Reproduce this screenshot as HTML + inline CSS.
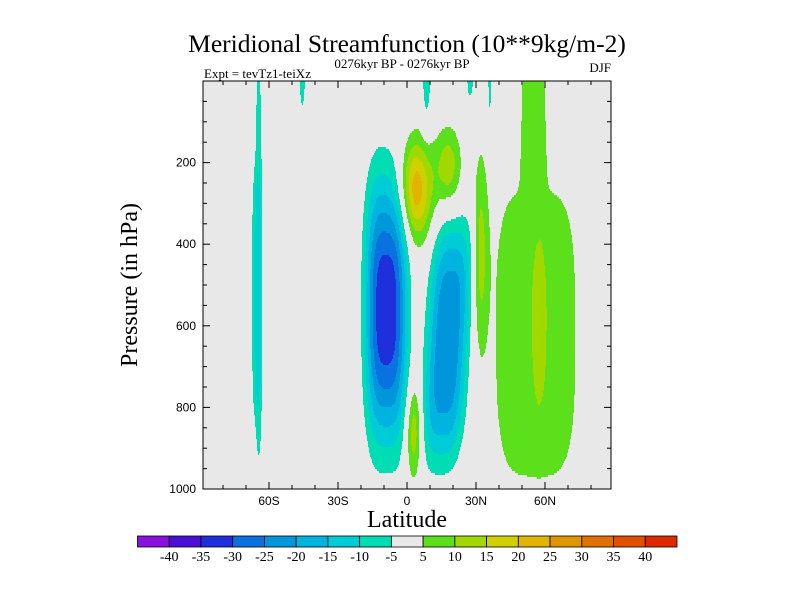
<!DOCTYPE html>
<html><head><meta charset="utf-8"><style>
body{margin:0;background:#fff;}
svg{display:block;}
.serif{font-family:"Liberation Serif",serif;}
.sans{font-family:"Liberation Sans",sans-serif;}
</style></head><body>
<svg id="chart" width="800" height="600" viewBox="0 0 800 600">
<text class="serif" x="407" y="52" font-size="25.5" text-anchor="middle">Meridional Streamfunction (10**9kg/m-2)</text>
<text class="serif" x="402" y="68" font-size="13" text-anchor="middle">0276kyr BP - 0276kyr BP</text>
<text class="serif" x="204" y="78" font-size="13">Expt = tevTz1-teiXz</text>
<text class="serif" x="611" y="72" font-size="13" text-anchor="end">DJF</text>
<rect x="203" y="81" width="408" height="408" fill="#e8e8e8"/>
<g id="field"></g>
<g id="axes"></g>
<rect x="203" y="81" width="408" height="408" fill="none" stroke="#000" stroke-width="1"/>
<text class="serif" x="137" y="285" font-size="24" text-anchor="middle" transform="rotate(-90 137 285)">Pressure (in hPa)</text>
<text class="serif" x="407" y="527" font-size="24" text-anchor="middle">Latitude</text>
<g id="colorbar"></g>
</svg>
<script>
// Blob model of the streamfunction field
const blobLat  = [-9,   17.5, 4,   18,  3,   32,  56,  55,  57.5, -64.5, -66, 8.5, 27.5, 36,  -45.5];
const blobP    = [560,  640,  265, 210, 860, 420, 620, 0,   570,  450,   520, 0,   0,    0,   0];
const blobAmp  = [-34,  -24,  23,  13,  14,  12,  9,   7,   5,    -8,    -6,  -8,  -7,   -7,  -7];
const blobSx   = [7,    7,    5,   4,   2.5, 2.3, 16.5,5,   1.8,  1.2,   1.6, 1.5, 1.5,  0.8, 1.2];
const blobSy   = [235,  234,  85,  70,  85,  174, 330, 200, 150,  470,   280, 90,  45,   95,  70];
const blobN    = [3,    3,    2,   2,   2,   2,   4,   4,   2,    2,     2,   2,   2,    2,   2];
const blobM    = [2.5,  3.5,  2,   2,   2,   2,   3,   4,   2,    6,     6,   2,   2,    2,   2];
const blobTilt = [0,   -0.01, 0,   0,   0,   0,   0,   0,   0,    0,     0,   0,   0,    0,   0];
const levels = [-40,-35,-30,-25,-20,-15,-10,-5,5,10,15,20,25,30,35,40];
const levelColors = ["#8a10e0","#4a10d8","#1e30dc","#0a72e0","#0096dc","#00b4e0","#00ccd8","#00dcb4","#e8e8e8","#5ce01c","#a0d800","#d0d000","#e0b400","#e09600","#e07000","#e05000","#e02800"];
const pTicks = [200,400,600,800,1000];
const latTicks = [-60,-30,0,30,60];
const latTickLabels = ["60S","30S","0","30N","60N"];

const X0=203,X1=611,Y0=81,Y1=489,LATMIN=-88.7,LATMAX=88.7;
const xScale = lat => X0 + (lat-LATMIN)/(LATMAX-LATMIN)*(X1-X0);
const latOf = x => LATMIN + (x-X0)/(X1-X0)*(LATMAX-LATMIN);
const yScale = p => Y0 + p/1000*(Y1-Y0);
const pOf = y => (y-Y0)/(Y1-Y0)*1000;
function value(lat,p){
  let v=0;
  for(let i=0;i<blobLat.length;i++){
    const lc = blobLat[i] + blobTilt[i]*(p-blobP[i]);
    const dx=Math.abs((lat-lc)/blobSx[i]), dy=Math.abs((p-blobP[i])/blobSy[i]);
    v += blobAmp[i]*Math.exp(-0.5*(Math.pow(dx,blobN[i])+Math.pow(dy,blobM[i])));
  }
  return v;
}
function bin(v){let k=0;while(k<levels.length&&v>=levels[k])k++;return k;}
const NS="http://www.w3.org/2000/svg";
const field=document.getElementById('field');
const STEP=2;
for(let y=Y0;y<Y1;y+=STEP){
  const p=pOf(y+STEP/2);
  let start=X0, cur=bin(value(latOf(X0+0.5),p));
  for(let x=X0+1;x<=X1;x++){
    const b = x<X1 ? bin(value(latOf(x+0.5),p)) : -1;
    if(b!==cur){
      if(cur!==8){
        const r=document.createElementNS(NS,'rect');
        r.setAttribute('x',start);r.setAttribute('y',y);
        r.setAttribute('width',x-start);r.setAttribute('height',STEP);
        r.setAttribute('fill',levelColors[cur]);
        
        
        field.appendChild(r);
      }
      start=x;cur=b;
    }
  }
}
const axes=document.getElementById('axes');
function line(x1,y1,x2,y2){
  const l=document.createElementNS(NS,'line');
  l.setAttribute('x1',x1);l.setAttribute('y1',y1);l.setAttribute('x2',x2);l.setAttribute('y2',y2);
  l.setAttribute('stroke','#000');l.setAttribute('stroke-width','1');
  
  
  axes.appendChild(l);
}
for(let p=50;p<1000;p+=50){
  const y=yScale(p), L=(p%200===0)?7:4;
  line(X0,y,X0+L,y);line(X1,y,X1-L,y);
}
for(let lat=-80;lat<=80;lat+=10){
  const x=xScale(lat), L=(lat%30===0)?7:4;
  line(x,Y1,x,Y1-L);line(x,Y0,x,Y0+L);
}
pTicks.forEach(p=>{
  const t=document.createElementNS(NS,'text');
  t.setAttribute('x',196);t.setAttribute('y',yScale(p)+4);
  t.setAttribute('text-anchor','end');t.setAttribute('font-size','12');t.setAttribute('class','sans');
  t.textContent=p;
  
  
  axes.appendChild(t);
});
latTicks.forEach((lat,i)=>{
  const t=document.createElementNS(NS,'text');
  t.setAttribute('x',xScale(lat));t.setAttribute('y',505);
  t.setAttribute('text-anchor','middle');t.setAttribute('font-size','12');t.setAttribute('class','sans');
  t.textContent=latTickLabels[i];
  
  
  axes.appendChild(t);
});
const cb=document.getElementById('colorbar');
const CB0=137.5,CB1=677,CBY=536,CBH=11,bw=(CB1-CB0)/levelColors.length;
levelColors.forEach((c,i)=>{
  const r=document.createElementNS(NS,'rect');
  r.setAttribute('x',CB0+i*bw);r.setAttribute('y',CBY);r.setAttribute('width',bw);r.setAttribute('height',CBH);
  r.setAttribute('fill',c);r.setAttribute('stroke','#000');r.setAttribute('stroke-width','0.8');
  
  
  cb.appendChild(r);
});
levels.forEach((lv,i)=>{
  const t=document.createElementNS(NS,'text');
  t.setAttribute('x',CB0+(i+1)*bw);t.setAttribute('y',561);
  t.setAttribute('text-anchor','middle');t.setAttribute('font-size','14');t.setAttribute('class','serif');
  t.textContent=lv;
  
  
  cb.appendChild(t);
});
</script>
</body></html>
